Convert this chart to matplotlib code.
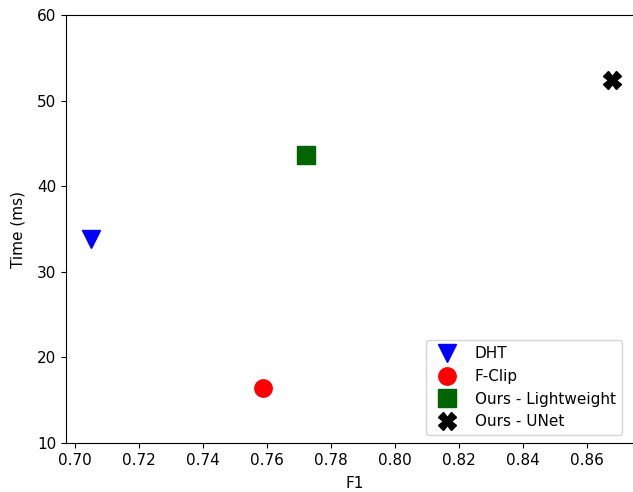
import matplotlib.pyplot as plt

# data
methods = ["DHT", "F-Clip", "Ours - Lightweight", "Ours - UNet"]
f1 = [0.705, 0.7588, 0.7722, 0.8678]
time_ms = [33.8, 16.4, 43.6, 52.4]
markers = ["v", "o", "s", "X"]
colors = ["blue", "red", "darkgreen", "black"]

plt.rcParams["font.size"] = 11

fig = plt.figure(figsize=(6.33, 4.92), dpi=100)
# right spine is cut off in the reference, so the axes run past the canvas
ax = fig.add_axes([0.1043, 0.0996, 0.9115, 0.8699])

for name, x, y, m, c in zip(methods, f1, time_ms, markers, colors):
    ax.plot(x, y, linestyle="none", marker=m, color=c, markersize=12.5, label=name)

ax.set_xlim(0.6972, 0.8775)
ax.set_ylim(10, 60)
ax.set_xticks([0.70, 0.72, 0.74, 0.76, 0.78, 0.80, 0.82, 0.84, 0.86])
ax.set_xlabel("F1", labelpad=6)
ax.set_ylabel("Time (ms)", labelpad=8)
ax.legend(loc="lower right", bbox_to_anchor=(0.9765, 0.0))

fig.savefig("out.png", dpi=100)
